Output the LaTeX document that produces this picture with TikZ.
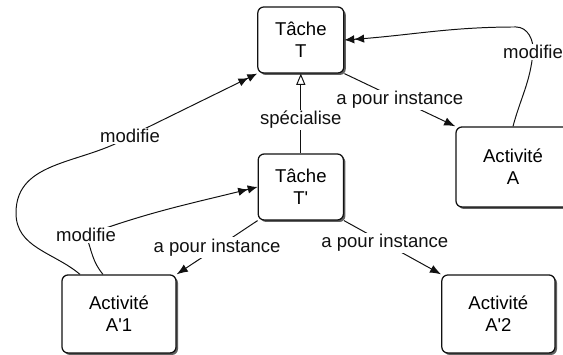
\documentclass[tikz,border=0pt]{standalone}
\usepackage{fontspec}
\setmainfont{Liberation Sans}
\usepackage{tikz}
\usetikzlibrary{arrows.meta,shadows}
\definecolor{ink}{HTML}{111111}
\definecolor{shade}{HTML}{444444}
\tikzset{
  boxNode/.style={draw=ink, line width=0.9pt, rounded corners=0.15cm, fill=white, align=center,
    font=\fontsize{13.2}{15.5}\selectfont, inner sep=0pt,
    drop shadow={shadow xshift=0.05cm, shadow yshift=-0.05cm, fill=shade, opacity=0.85}},
  edgeLabel/.style={fill=white, inner sep=1pt, text=ink, font=\fontsize{13.2}{15.5}\selectfont},
  instArrow/.style={draw=ink, line width=0.7pt, -{Latex[length=8pt,width=6pt]}},
  specArrow/.style={draw=ink, line width=0.7pt, -{Triangle[open,length=8pt,width=6.5pt]}},
  modArrow/.style={draw=ink, line width=0.7pt, -{Latex[length=7pt,width=6pt]Latex[length=7pt,width=6pt]}}
}
\begin{document}
\begin{tikzpicture}
  \useasboundingbox (0,0) rectangle (14.075,8.875);
  \clip (0,0) rectangle (14.075,8.875);

  \node[boxNode, minimum width=2.15cm, minimum height=1.65cm] (T) at (7.52,7.875) {Tâche\\T};
  \node[boxNode, minimum width=2.13cm, minimum height=1.65cm] (Tp) at (7.52,4.2) {Tâche\\T\textquotesingle};
  \node[boxNode, minimum width=2.85cm, minimum height=2.0cm] (A) at (12.825,4.7) {Activité\\A};
  \node[boxNode, minimum width=2.85cm, minimum height=1.95cm] (Ap1) at (2.975,1.025) {Activité\\A\textquotesingle 1};
  \node[boxNode, minimum width=2.83cm, minimum height=1.95cm] (Ap2) at (12.46,1.025) {Activité\\A\textquotesingle 2};

  \draw[specArrow] (Tp.north) -- node[edgeLabel, pos=0.42] {spécialise} (T.south);

  \draw[instArrow] (T.south east) -- node[edgeLabel] {a pour instance} (A.north west);
  \draw[instArrow] (Tp.south west) -- node[edgeLabel] {a pour instance} (Ap1.north east);
  \draw[instArrow] (Tp.south east) -- node[edgeLabel, pos=0.42] {a pour instance} (Ap2.north west);

  \draw[modArrow] (A.north) to[out=75,in=-95] (13.325,7.575) node[edgeLabel] {modifie}
    to[out=85,in=0] (12.9,8.2) to[out=180,in=4] (T.east);
  \draw[modArrow] ([xshift=-0.975cm]Ap1.north) to[out=140,in=-90] (0.4,3.55)
    to[out=90,in=212] (3.25,5.475) node[edgeLabel] {modifie} -- (T.south west);
  \draw[modArrow] ([xshift=-0.4cm]Ap1.north) to[out=130,in=-70] (2.15,3.0) node[edgeLabel] {modifie}
    to[out=20,in=194] (Tp.west);
\end{tikzpicture}
\end{document}
